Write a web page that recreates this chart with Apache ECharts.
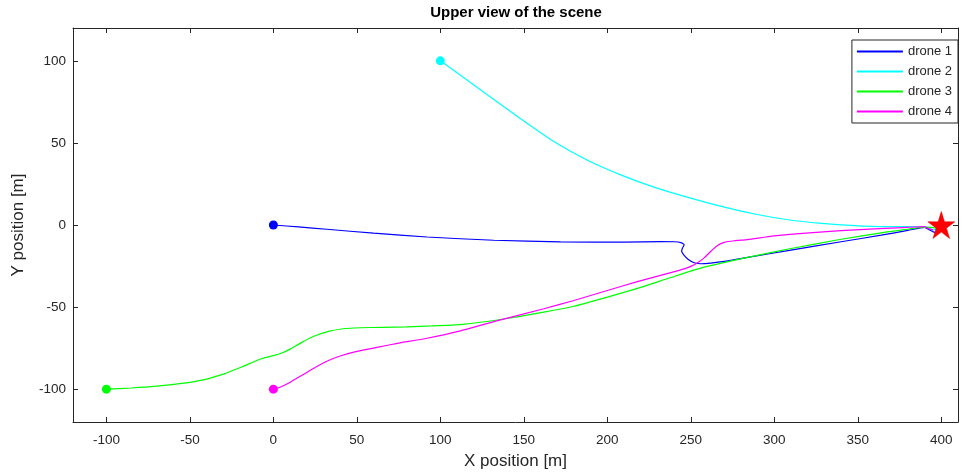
<!DOCTYPE html>
<html>
<head>
<meta charset="utf-8">
<script src="https://cdn.jsdelivr.net/npm/echarts@6/dist/echarts.min.js"></script>
<style>
html,body{margin:0;padding:0;background:#fff;}
#chart{width:969px;height:475px;}
</style>
</head>
<body>
<div id="chart"></div>
<script>
// ---- data ----
const seriesNames = ['drone 1', 'drone 2', 'drone 3', 'drone 4'];
const xTicks = [-100, -50, 0, 50, 100, 150, 200, 250, 300, 350, 400];
const yTicks = [-100, -50, 0, 50, 100];

const drone1X = [0, 15, 32, 60, 92, 132, 172, 210, 232, 240, 244, 246, 245, 244.5, 246, 248.5, 252, 256, 262, 270, 284, 310, 340, 364, 380, 390, 393, 396, 398];
const drone1Y = [0, -1.2, -2.6, -5, -7.3, -9.3, -10.3, -10.4, -10.1, -10.2, -10.7, -12, -14, -16, -18.5, -21, -23, -23.6, -23.2, -22.2, -19.7, -15.3, -10.2, -6.2, -3.3, -1.4, -3, -4.5, -3];

const drone2X = [100, 110, 128.5, 148.5, 168.4, 188.4, 208.4, 228.3, 248.3, 268.3, 288.2, 308.2, 328.1, 348, 368, 385, 392, 395, 397];
const drone2Y = [100, 92.7, 79.1, 64.4, 50.5, 39.3, 30.4, 22.9, 16.8, 11.3, 6.7, 3.2, 1.0, -0.4, -1.0, -1.0, -1.5, -3, -2.5];

const drone3X = [-100, -85, -70, -55, -42, -30, -19, -10, -5, 0, 5, 10, 17, 25, 33, 42, 52, 65, 80, 95, 113, 137, 162, 180, 198, 220, 238, 258, 284, 310, 340, 365, 380, 390, 394, 397];
const drone3Y = [-100, -99.3, -98.2, -96.5, -94.3, -90.8, -86.5, -82.5, -80.8, -79.6, -78, -75.6, -71.5, -67.5, -64.8, -63.2, -62.6, -62.3, -62, -61.5, -60.5, -57.4, -53.1, -49.5, -44.5, -38, -32, -25.7, -19.7, -14.3, -8.7, -4.6, -2.6, -1.3, -1.5, -2];

const drone4X = [0, 4, 9, 14, 19, 25, 32, 40, 50, 62, 75, 92, 112, 136, 162, 180, 198, 218, 238, 246, 250, 254, 258, 262, 266, 270, 276, 284, 300, 340, 380, 390, 393, 395];
const drone4Y = [-100, -98.8, -96.4, -93.3, -90.4, -86.8, -83, -79.8, -77, -74.5, -72, -69, -64.5, -57.8, -51, -46, -40.5, -34.5, -29, -26.7, -25.2, -23, -20, -16, -12.5, -10.6, -9.6, -8.9, -6.6, -3.4, -1.4, -1, -2.5, -3];

const startX = [0, 100, -100, 0];
const startY = [0, 100, -100, -100];
const targetX = [400];
const targetY = [0];

const colors = ['#0000ff', '#00ffff', '#00ff00', '#ff00ff'];

// ---- chart ----
const pairs = (xs, ys) => xs.map((x, i) => [x, ys[i]]);
const allX = [drone1X, drone2X, drone3X, drone4X];
const allY = [drone1Y, drone2Y, drone3Y, drone4Y];
const font = 'Liberation Sans, Arial, Helvetica, sans-serif';
const axisCol = '#262626';

const lineSeries = seriesNames.map((n, i) => ({
  name: n,
  type: 'line',
  xAxisIndex: 0, yAxisIndex: 0,
  data: pairs(allX[i], allY[i]),
  showSymbol: false,
  smooth: 0.2,
  lineStyle: { color: colors[i], width: 1.2 },
  itemStyle: { color: colors[i] },
  z: 3
}));

const startSeries = startX.map((x, i) => ({
  name: 'start ' + (i + 1),
  type: 'scatter',
  data: [[x, startY[i]]],
  symbol: 'circle',
  symbolSize: 9,
  itemStyle: { color: colors[i], opacity: 1 },
  z: 4
}));

const starSeries = {
  name: 'target',
  type: 'scatter',
  data: pairs(targetX, targetY),
  symbol: 'path://M50,0 L61.2,34.5 L97.6,34.5 L68.2,55.9 L79.4,90.5 L50,69.1 L20.6,90.5 L31.8,55.9 L2.4,34.5 L38.8,34.5 Z',
  symbolSize: 27,
  itemStyle: { color: '#ff0000', borderColor: '#e00000', borderWidth: 0.5, opacity: 1 },
  z: 5
};

const baseX = {
  type: 'value', min: -120, max: 410,
  splitLine: { show: false },
  axisLine: { show: true, onZero: false, lineStyle: { color: axisCol, width: 1 } },
  axisTick: { show: true, inside: true, length: 5, customValues: xTicks, lineStyle: { color: axisCol } },
};
const baseY = {
  type: 'value', min: -120, max: 120,
  splitLine: { show: false },
  axisLine: { show: true, onZero: false, lineStyle: { color: axisCol, width: 1 } },
  axisTick: { show: true, inside: true, length: 5, customValues: yTicks, lineStyle: { color: axisCol } },
};

const option = {
  animation: false,
  backgroundColor: '#ffffff',
  title: {
    text: 'Upper view of the scene',
    left: 516, top: 5, textAlign: 'center', padding: 0,
    textStyle: { fontFamily: font, fontSize: 15, fontWeight: 'bold', color: '#000' }
  },
  grid: { left: 73, right: 11, top: 28, bottom: 52, containLabel: false },
  legend: {
    data: seriesNames,
    orient: 'vertical',
    right: 11, top: 40,
    icon: 'rect', itemWidth: 46, itemHeight: 2, itemGap: 7,
    padding: [5, 6, 5, 5],
    backgroundColor: '#fff',
    borderColor: axisCol, borderWidth: 1,
    textStyle: { fontFamily: font, fontSize: 13, color: axisCol, lineHeight: 13 }
  },
  xAxis: [
    Object.assign({}, baseX, {
      position: 'bottom',
      name: 'X position [m]', nameLocation: 'middle', nameGap: 31,
      nameTextStyle: { fontFamily: font, fontSize: 17, color: axisCol },
      axisLabel: { show: true, customValues: xTicks, margin: 11, fontFamily: font, fontSize: 13.5, color: axisCol }
    }),
    Object.assign({}, baseX, { position: 'top', axisLabel: { show: false } })
  ],
  yAxis: [
    Object.assign({}, baseY, {
      position: 'left',
      name: 'Y position [m]', nameLocation: 'middle', nameGap: 46,
      nameTextStyle: { fontFamily: font, fontSize: 17, color: axisCol },
      axisLabel: { show: true, customValues: yTicks, margin: 7, fontFamily: font, fontSize: 13.5, color: axisCol }
    }),
    Object.assign({}, baseY, { position: 'right', axisLabel: { show: false } })
  ],
  series: lineSeries.concat(startSeries, [starSeries])
};

const chart = echarts.init(document.getElementById('chart'), null, { renderer: 'canvas' });
chart.setOption(option);
</script>
</body>
</html>
